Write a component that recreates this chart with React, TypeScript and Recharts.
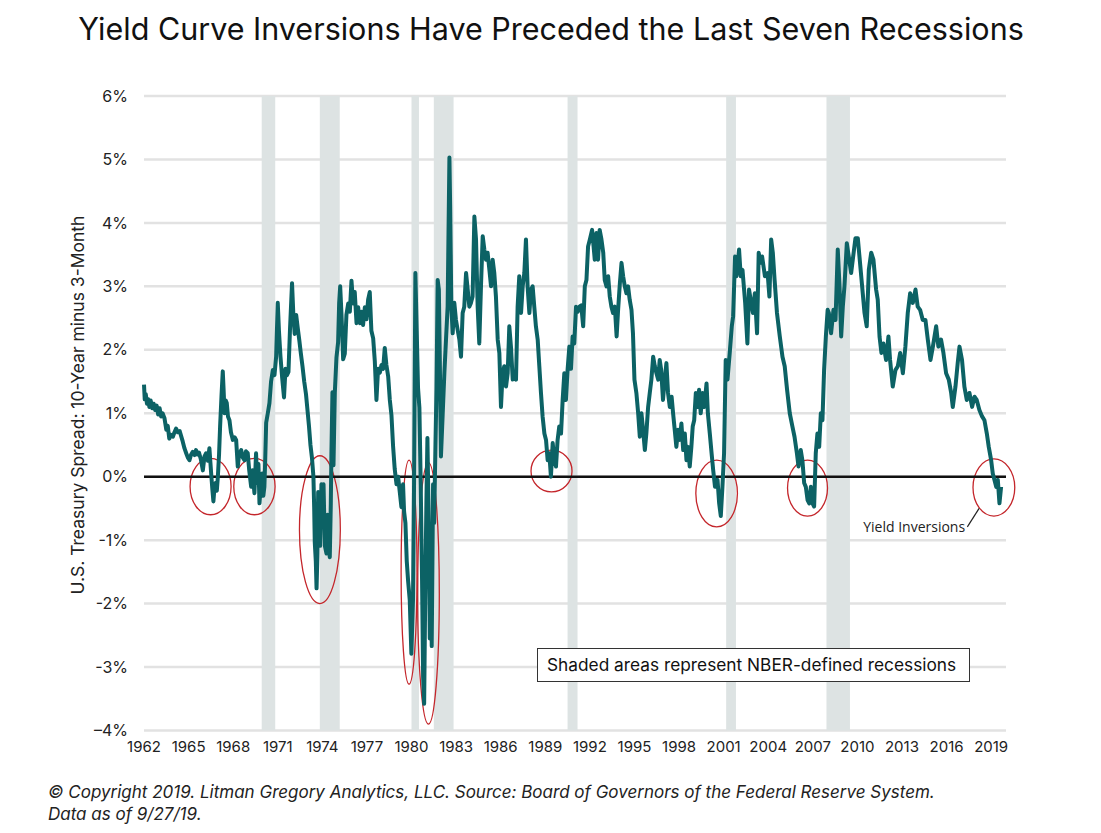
import React from "react";
import { LineChart, Line, XAxis, YAxis, CartesianGrid, ReferenceArea, ReferenceLine, ReferenceDot } from "recharts";

// 10-year minus 3-month Treasury spread, [year, percent]
const spread1960s: [number, number][] = [
  [1962.0, 1.45], [1962.05, 1.22], [1962.12, 1.3], [1962.2, 1.15], [1962.28, 1.22], [1962.36, 1.1],
  [1962.45, 1.2], [1962.55, 1.08], [1962.65, 1.15], [1962.75, 1.05], [1962.85, 1.12], [1962.95, 0.98],
  [1963.05, 1.08], [1963.15, 0.95], [1963.25, 1.0], [1963.38, 0.92], [1963.5, 0.74], [1963.6, 0.8],
  [1963.7, 0.6], [1963.82, 0.66], [1963.94, 0.63], [1964.05, 0.7], [1964.16, 0.76], [1964.28, 0.7],
  [1964.4, 0.72], [1964.5, 0.64], [1964.6, 0.56], [1964.72, 0.45], [1964.84, 0.37], [1964.95, 0.3],
  [1965.06, 0.26], [1965.17, 0.35], [1965.28, 0.39], [1965.4, 0.34], [1965.5, 0.42], [1965.6, 0.35],
  [1965.7, 0.38], [1965.82, 0.28], [1965.96, 0.1], [1966.07, 0.32], [1966.18, 0.37], [1966.3, 0.25],
  [1966.4, 0.45], [1966.52, 0.05], [1966.6, -0.2], [1966.67, -0.39], [1966.75, -0.15], [1966.82, -0.1],
  [1966.9, -0.22], [1966.97, 0.0], [1967.05, 0.35], [1967.12, 0.79], [1967.22, 1.3], [1967.3, 1.66],
  [1967.36, 1.35], [1967.42, 1.0], [1967.5, 1.2], [1967.57, 1.16], [1967.65, 0.95], [1967.75, 0.89],
  [1967.85, 0.7], [1967.98, 0.58], [1968.1, 0.62], [1968.2, 0.58], [1968.31, 0.16], [1968.4, 0.35],
  [1968.54, 0.42], [1968.65, 0.3], [1968.76, 0.26], [1968.86, 0.4], [1968.98, 0.37], [1969.08, 0.1],
  [1969.21, -0.16], [1969.3, 0.1], [1969.43, -0.26], [1969.54, 0.37], [1969.62, -0.1], [1969.7, 0.2],
  [1969.77, -0.42], [1969.87, -0.1], [1969.95, 0.05],
];

const spread1970s: [number, number][] = [
  [1970.03, -0.3], [1970.1, -0.16], [1970.16, 0.3], [1970.22, 0.85], [1970.33, 1.0], [1970.44, 1.16],
  [1970.55, 1.5], [1970.67, 1.68], [1970.78, 1.6], [1970.89, 1.89], [1971.0, 2.74], [1971.08, 2.3],
  [1971.18, 1.9], [1971.3, 1.55], [1971.42, 1.25], [1971.52, 1.7], [1971.62, 1.6], [1971.72, 1.65],
  [1971.82, 2.3], [1971.96, 3.05], [1972.05, 2.55], [1972.14, 2.25], [1972.24, 2.55], [1972.34, 2.35],
  [1972.45, 2.15], [1972.55, 1.95], [1972.66, 1.75], [1972.78, 1.5], [1972.9, 1.3], [1973.0, 1.05],
  [1973.1, 0.8], [1973.2, 0.5], [1973.3, 0.3], [1973.4, 0.0], [1973.45, -0.48], [1973.49, -1.03],
  [1973.56, -1.33], [1973.61, -1.76], [1973.67, -1.21], [1973.72, -0.24], [1973.79, -0.6], [1973.85, -1.09],
  [1973.94, -0.12], [1974.01, -0.73], [1974.08, -0.12], [1974.17, -1.09], [1974.28, -1.21], [1974.35, -0.6],
  [1974.44, -1.15], [1974.5, -1.27], [1974.57, -0.42], [1974.61, 0.36], [1974.68, 1.33], [1974.75, 0.18],
  [1974.84, 1.33], [1974.95, 1.88], [1975.06, 2.12], [1975.13, 2.73], [1975.2, 3.0], [1975.29, 2.55],
  [1975.4, 1.85], [1975.51, 1.94], [1975.62, 2.55], [1975.74, 2.73], [1975.85, 2.6], [1975.96, 3.09],
  [1976.07, 2.73], [1976.18, 2.91], [1976.3, 2.42], [1976.41, 2.67], [1976.52, 2.42], [1976.63, 2.6],
  [1976.74, 2.39], [1976.86, 2.67], [1976.97, 2.48], [1977.08, 2.79], [1977.19, 2.91], [1977.3, 2.3],
  [1977.42, 2.18], [1977.53, 1.82], [1977.64, 1.21], [1977.75, 1.7], [1977.87, 1.64], [1977.98, 1.76],
  [1978.09, 1.7], [1978.2, 2.03], [1978.31, 1.76], [1978.43, 1.58], [1978.54, 1.21], [1978.65, 0.97],
  [1978.76, 0.48], [1978.87, 0.12], [1978.99, -0.12], [1979.1, 0.0], [1979.21, -0.24], [1979.32, -0.48],
  [1979.43, -0.12], [1979.5, -0.55], [1979.59, -0.73], [1979.68, -1.33], [1979.77, -1.64], [1979.88, -1.94],
  [1979.99, -2.79],
];

const spread1980s: [number, number][] = [
  [1980.1, -1.94], [1980.17, -0.12], [1980.26, 3.21], [1980.35, 2.3], [1980.44, 1.39], [1980.53, 1.09],
  [1980.62, -0.12], [1980.71, -1.64], [1980.78, -3.15], [1980.85, -3.58], [1980.92, -1.94], [1981.0, -0.42],
  [1981.07, 0.61], [1981.16, -0.73], [1981.23, -2.55], [1981.3, -1.45], [1981.36, -2.67], [1981.45, -0.12],
  [1981.52, -0.73], [1981.61, 0.48], [1981.68, 1.39], [1981.76, 3.1], [1981.84, 2.95], [1981.9, 1.9],
  [1981.98, 0.32], [1982.1, 1.0], [1982.21, 1.63], [1982.32, 2.16], [1982.43, 2.68], [1982.55, 5.03],
  [1982.6, 4.26], [1982.68, 2.68], [1982.77, 2.26], [1982.88, 2.74], [1982.99, 2.47], [1983.1, 2.32],
  [1983.22, 2.16], [1983.33, 1.89], [1983.44, 2.58], [1983.55, 2.68], [1983.67, 3.21], [1983.78, 2.95],
  [1983.89, 2.68], [1984.0, 2.74], [1984.11, 2.84], [1984.23, 4.1], [1984.34, 3.74], [1984.45, 2.68],
  [1984.56, 2.1], [1984.68, 3.05], [1984.79, 3.79], [1984.9, 3.58], [1985.01, 3.42], [1985.12, 3.53],
  [1985.24, 3.26], [1985.35, 3.0], [1985.46, 3.42], [1985.57, 3.21], [1985.68, 2.84], [1985.8, 2.16],
  [1985.91, 1.95], [1986.02, 1.1], [1986.13, 1.63], [1986.24, 1.74], [1986.36, 1.42], [1986.47, 1.63],
  [1986.58, 2.37], [1986.69, 2.05], [1986.81, 1.53], [1986.92, 1.63], [1987.03, 1.53], [1987.14, 2.68],
  [1987.25, 3.16], [1987.37, 2.58], [1987.48, 3.0], [1987.59, 3.21], [1987.7, 3.74], [1987.81, 3.0],
  [1987.93, 2.58], [1988.04, 2.95], [1988.15, 3.0], [1988.26, 2.68], [1988.37, 2.37], [1988.49, 2.16],
  [1988.6, 1.74], [1988.71, 1.32], [1988.82, 0.95], [1988.94, 0.68], [1989.05, 0.58], [1989.16, 0.26],
  [1989.27, 0.37], [1989.38, 0.0], [1989.5, 0.53], [1989.61, 0.26], [1989.72, 0.16], [1989.83, 0.58],
  [1989.94, 0.79],
];

const spread1990s: [number, number][] = [
  [1990.06, 0.68], [1990.17, 1.21], [1990.28, 1.63], [1990.39, 1.21], [1990.5, 1.68], [1990.62, 2.05],
  [1990.73, 1.7], [1990.84, 2.21], [1990.95, 2.1], [1991.07, 2.68], [1991.18, 2.6], [1991.3, 2.68],
  [1991.42, 2.7], [1991.55, 2.37], [1991.66, 3.0], [1991.77, 3.1], [1991.88, 3.63], [1992.0, 3.74],
  [1992.15, 3.89], [1992.33, 3.42], [1992.44, 3.84], [1992.55, 3.42], [1992.66, 3.89], [1992.78, 3.74],
  [1992.9, 3.53], [1993.0, 3.1], [1993.12, 3.0], [1993.23, 3.16], [1993.34, 2.84], [1993.45, 2.68],
  [1993.56, 2.58], [1993.68, 2.68], [1993.8, 2.21], [1993.9, 2.63], [1994.02, 3.05], [1994.13, 3.37],
  [1994.24, 3.16], [1994.35, 3.0], [1994.46, 2.89], [1994.57, 3.0], [1994.68, 2.79], [1994.8, 2.63],
  [1994.9, 2.26], [1995.0, 1.53], [1995.13, 1.32], [1995.25, 1.0], [1995.36, 0.63], [1995.47, 1.0],
  [1995.58, 0.74], [1995.7, 0.42], [1995.8, 0.68], [1995.92, 1.1], [1996.03, 1.32], [1996.14, 1.53],
  [1996.26, 1.89], [1996.37, 1.74], [1996.48, 1.63], [1996.6, 1.53], [1996.7, 1.84], [1996.8, 1.68],
  [1996.92, 1.21], [1997.04, 1.53], [1997.15, 1.79], [1997.26, 1.32], [1997.38, 1.1], [1997.5, 1.26],
  [1997.6, 1.0], [1997.71, 0.74], [1997.82, 0.47], [1997.93, 0.74], [1998.05, 0.58], [1998.16, 0.84],
  [1998.28, 0.42], [1998.39, 0.68], [1998.5, 0.26], [1998.6, 0.47], [1998.72, 0.16], [1998.83, 0.47],
  [1998.92, 0.79], [1999.02, 0.89], [1999.13, 1.32], [1999.24, 1.1], [1999.35, 1.37], [1999.46, 1.0],
  [1999.58, 1.32], [1999.7, 1.1], [1999.85, 1.47], [1999.94, 1.0],
];

const spread2000s: [number, number][] = [
  [2000.07, 0.68], [2000.19, 0.37], [2000.3, 0.1], [2000.42, -0.16], [2000.59, -0.05], [2000.7, -0.42],
  [2000.81, -0.62], [2000.92, -0.16], [2001.03, 0.37], [2001.14, 1.84], [2001.26, 1.53], [2001.41, 1.95],
  [2001.55, 2.37], [2001.64, 2.53], [2001.77, 3.47], [2001.86, 3.16], [2002.04, 3.58], [2002.15, 3.16],
  [2002.27, 3.26], [2002.45, 2.74], [2002.6, 2.1], [2002.71, 2.95], [2002.82, 2.79], [2002.97, 2.58],
  [2003.1, 2.89], [2003.25, 2.26], [2003.36, 3.53], [2003.48, 3.37], [2003.59, 3.47], [2003.78, 3.16],
  [2003.96, 3.21], [2004.08, 2.84], [2004.2, 3.74], [2004.31, 3.53], [2004.43, 3.1], [2004.59, 2.58],
  [2004.78, 2.21], [2004.96, 1.89], [2005.11, 1.74], [2005.27, 1.37], [2005.45, 1.0], [2005.63, 0.79],
  [2005.77, 0.63], [2005.93, 0.37], [2006.04, 0.16], [2006.19, 0.42], [2006.3, 0.26], [2006.42, -0.1],
  [2006.53, -0.16], [2006.65, -0.37], [2006.76, -0.42], [2006.87, -0.16], [2006.98, -0.42], [2007.09, -0.47],
  [2007.2, 0.37], [2007.31, 0.68], [2007.43, 0.47], [2007.54, 1.0], [2007.65, 0.89], [2007.76, 1.68],
  [2007.88, 2.21], [2008.0, 2.63], [2008.08, 2.58], [2008.23, 2.26], [2008.39, 2.63], [2008.53, 2.47],
  [2008.68, 3.58], [2008.8, 3.0], [2008.91, 2.21], [2009.02, 2.68], [2009.13, 3.0], [2009.29, 3.68],
  [2009.42, 3.47], [2009.58, 3.21], [2009.69, 3.42], [2009.87, 3.76],
];

const spread2010s: [number, number][] = [
  [2010.03, 3.76], [2010.14, 3.47], [2010.32, 3.0], [2010.48, 2.58], [2010.63, 2.37], [2010.77, 3.26],
  [2010.93, 3.53], [2011.08, 3.42], [2011.26, 2.95], [2011.37, 2.79], [2011.49, 2.21], [2011.62, 1.95],
  [2011.75, 2.1], [2011.93, 1.84], [2012.09, 2.21], [2012.2, 1.84], [2012.38, 1.42], [2012.56, 1.68],
  [2012.72, 1.74], [2012.88, 1.95], [2013.06, 1.63], [2013.23, 2.05], [2013.39, 2.58], [2013.55, 2.89],
  [2013.73, 2.74], [2013.91, 2.95], [2014.06, 2.68], [2014.22, 2.63], [2014.4, 2.47], [2014.58, 2.47],
  [2014.74, 2.16], [2014.92, 1.84], [2015.08, 2.05], [2015.3, 2.37], [2015.45, 2.05], [2015.63, 2.16],
  [2015.79, 1.95], [2015.97, 1.63], [2016.15, 1.53], [2016.31, 1.32], [2016.42, 1.1], [2016.6, 1.42],
  [2016.75, 1.79], [2016.87, 2.05], [2017.04, 1.84], [2017.2, 1.42], [2017.36, 1.21], [2017.54, 1.32],
  [2017.72, 1.1], [2017.88, 1.26], [2018.03, 1.21], [2018.21, 1.05], [2018.39, 0.95], [2018.55, 0.89],
  [2018.71, 0.68], [2018.84, 0.47], [2019.0, 0.26], [2019.11, 0.05], [2019.22, -0.05], [2019.34, -0.16],
  [2019.45, -0.05], [2019.56, -0.42], [2019.67, -0.16],
];

// NBER recessions [start, end]
const recessions: [number, number][] = [
  [1969.92, 1970.83], [1973.83, 1975.17], [1980.0, 1980.5], [1981.5, 1982.83],
  [1990.5, 1991.17], [2001.17, 2001.83], [2007.92, 2009.5],
];

// red rings around the inversions: [x1, x2, y1, y2]
const inversionRings: [number, number, number, number][] = [
  [1965.1, 1967.86, -0.6, 0.29], [1968.04, 1970.82, -0.6, 0.29], [1972.46, 1975.21, -2.0, 0.33],
  [1979.3, 1980.37, -3.27, 0.26], [1980.41, 1981.87, -3.9, 0.22], [1988.04, 1990.8, -0.24, 0.42],
  [1999.13, 2001.93, -0.79, 0.26], [2005.3, 2007.99, -0.62, 0.26], [2017.78, 2020.59, -0.62, 0.28],
];

const xTicks = [1962, 1965, 1968, 1971, 1974, 1977, 1980, 1983, 1986, 1989, 1992, 1995, 1998, 2001, 2004, 2007, 2010, 2013, 2016, 2019];
const yTicks = [-4, -3, -2, -1, 0, 1, 2, 3, 4, 5, 6];

const data = [...spread1960s, ...spread1970s, ...spread1980s, ...spread1990s, ...spread2000s, ...spread2010s]
  .map(([year, spread]) => ({ year, spread }));

const FONT = "Inter, 'DejaVu Sans', sans-serif";

const Ring = (props: any) => {
  const { x, y, width, height } = props;
  return (
    <ellipse cx={x + width / 2} cy={y + height / 2} rx={Math.abs(width) / 2} ry={Math.abs(height) / 2}
      fill="none" stroke="#c4262b" strokeWidth={1.3} />
  );
};

const InversionLabel = (props: any) => (
  <text x={props.cx} y={props.cy} textAnchor="end" fontSize={14} fill="#222" fontFamily="'Open Sans', sans-serif">
    Yield Inversions
  </text>
);

export default function App() {
  return (
    <div style={{ position: "absolute", left: 0, top: 0, width: 1101, height: 833, background: "#fff" }}>
      <LineChart width={1101} height={833} data={data} margin={{ top: 96, right: 95, bottom: 72.5, left: 84 }}>
        <CartesianGrid vertical={false} stroke="#e2e2e2" strokeWidth={2.5} />
        <XAxis type="number" dataKey="year" domain={[1962, 2020]} ticks={xTicks} interval={0}
          tickLine={false} axisLine={false} tickSize={0} tickMargin={11}
          tick={{ fontSize: 15, fill: "#222", fontFamily: FONT }} />
        <YAxis type="number" domain={[-4, 6]} ticks={yTicks} interval={0} width={60}
          tickLine={false} axisLine={false} tickSize={0} tickMargin={16}
          tickFormatter={(v: number) => (v === -4 ? "\u20134%" : `${v}%`)}
          tick={{ fontSize: 16, fill: "#222", fontFamily: FONT }} />
        {recessions.map(([x1, x2]) => (
          <ReferenceArea key={x1} x1={x1} x2={x2} fill="#dde3e3" fillOpacity={1} stroke="none" />
        ))}
        <ReferenceLine y={0} stroke="#111" strokeWidth={2.5} />
        <Line type="linear" dataKey="spread" stroke="#0c6265" strokeWidth={4} dot={false}
          isAnimationActive={false} strokeLinejoin="round" />
        {inversionRings.map(([x1, x2, y1, y2]) => (
          <ReferenceArea key={`r${x1}`} x1={x1} x2={x2} y1={y1} y2={y2} ifOverflow="visible" shape={Ring} />
        ))}
        <ReferenceLine segment={[{ x: 2017.4, y: -0.79 }, { x: 2018.19, y: -0.5 }]} stroke="#222" strokeWidth={1.2} ifOverflow="visible" />
        <ReferenceDot x={2017.25} y={-0.87} r={0} shape={InversionLabel} ifOverflow="visible" />
      </LineChart>
      <svg width={1101} height={833} style={{ position: "absolute", left: 0, top: 0, pointerEvents: "none" }}>
        <text x={551} y={40} textAnchor="middle" fontSize={30.5} fill="#111" fontFamily={FONT}>
          Yield Curve Inversions Have Preceded the Last Seven Recessions
        </text>
        <text transform="translate(83.5,405) rotate(-90)" textAnchor="middle" fontSize={17.5} fill="#222" fontFamily={FONT}>
          U.S. Treasury Spread: 10-Year minus 3-Month
        </text>
        <rect x={537.5} y={648.5} width={432} height={33} fill="#fff" stroke="#333" strokeWidth={1} />
        <text x={547} y={671} fontSize={17.3} fill="#111" fontFamily={FONT}>
          Shaded areas represent NBER-defined recessions
        </text>
        <text x={48} y={798} fontSize={17} fill="#222" fontStyle="italic" fontFamily={FONT}>
          © Copyright 2019. Litman Gregory Analytics, LLC. Source: Board of Governors of the Federal Reserve System.
        </text>
        <text x={48} y={820} fontSize={17} fill="#222" fontStyle="italic" fontFamily={FONT}>
          Data as of 9/27/19.
        </text>
      </svg>
    </div>
  );
}
